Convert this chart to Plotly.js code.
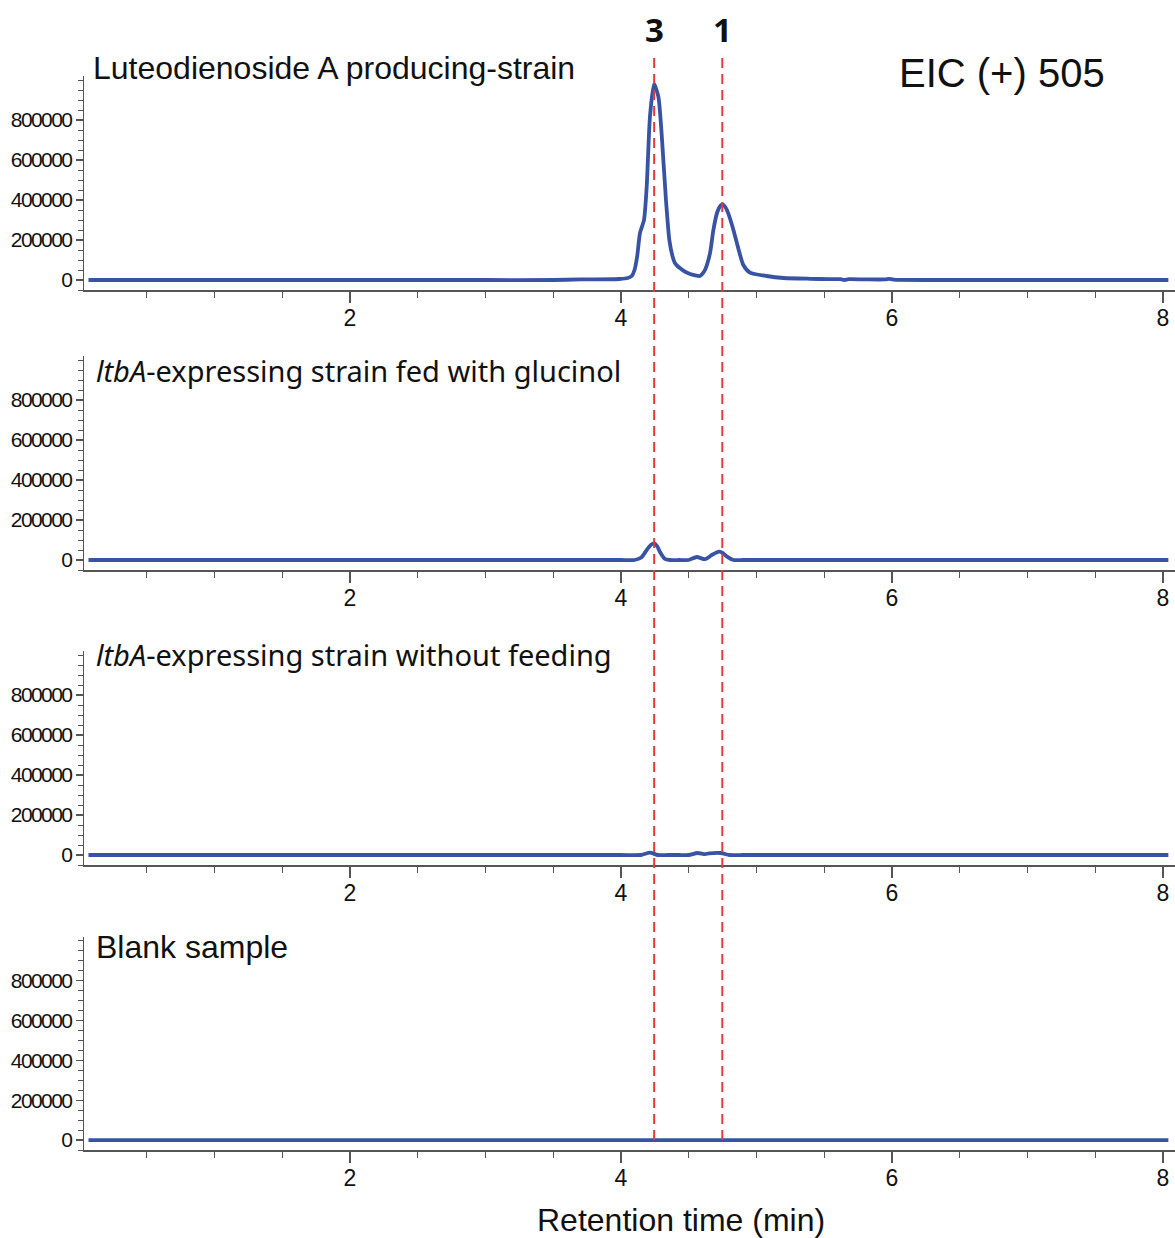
<!DOCTYPE html>
<html>
<head>
<meta charset="utf-8">
<script src="https://cdn.plot.ly/plotly-3.0.1.min.js"></script>
<style>
html,body{margin:0;padding:0;background:#fff;}
#chart{width:1175px;height:1238px;}
.yaxislayer-above text{letter-spacing:-1.6px;}
</style>
</head>
<body>
<div id="chart"></div>
<script>
// ---- Data ----
const panelLabels = [
  "Luteodienoside A producing-strain",
  "<i>ltbA</i>-expressing strain fed with glucinol",
  "<i>ltbA</i>-expressing strain without feeding",
  "Blank sample"
];
const xTickVals = [2, 4, 6, 8];
const yTickVals = [0, 200000, 400000, 600000, 800000];
const markerTimes = [4.245, 4.748];
const markerLabels = ["3", "1"];

const t1 = [0.07, 0.5, 1.0, 1.5, 2.0, 2.5, 3.0, 3.5, 3.7, 3.99, 4.05, 4.08, 4.10, 4.12, 4.14, 4.17, 4.19, 4.214, 4.244, 4.276, 4.30, 4.332, 4.357, 4.38, 4.40, 4.46, 4.51, 4.583, 4.60, 4.62, 4.657, 4.682, 4.711, 4.735, 4.75, 4.77, 4.792, 4.83, 4.866, 4.903, 4.952, 5.075, 5.2, 5.4, 5.54, 5.62, 5.65, 5.68, 5.8, 5.95, 5.98, 6.01, 6.3, 6.6, 7.0, 7.5, 8.04];
const v1 = [0, 0, 0, 0, 0, 0, 0, 0, 3000, 5000, 10000, 20000, 50000, 120000, 233000, 300000, 467000, 817000, 980000, 917000, 733000, 400000, 200000, 120000, 83000, 47000, 30000, 20000, 30000, 50000, 133000, 250000, 340000, 372000, 378000, 365000, 333000, 250000, 158000, 75000, 37000, 20000, 10000, 6000, 4000, 4000, 0, 4000, 3000, 3000, 6000, 2000, 0, 0, 0, 0, 0];

const t2 = [0.07, 0.5, 1.0, 1.5, 2.0, 2.5, 3.0, 3.5, 4.0, 4.10, 4.15, 4.19, 4.222, 4.244, 4.268, 4.288, 4.325, 4.36, 4.43, 4.50, 4.559, 4.62, 4.67, 4.705, 4.726, 4.75, 4.78, 4.83, 4.9, 5.0, 5.5, 6.0, 6.5, 7.0, 7.5, 8.04];
const v2 = [0, 0, 0, 0, 0, 0, 0, 0, 0, 0, 12000, 50000, 76000, 83000, 68000, 40000, 5000, 0, 0, 0, 15000, 4000, 25000, 38000, 42000, 36000, 18000, 0, 0, 0, 0, 0, 0, 0, 0, 0];

const t3 = [0.07, 0.5, 1.0, 1.5, 2.0, 2.5, 3.0, 3.5, 4.0, 4.15, 4.214, 4.27, 4.35, 4.43, 4.50, 4.565, 4.62, 4.65, 4.735, 4.80, 4.9, 5.0, 5.5, 6.0, 6.5, 7.0, 7.5, 8.04];
const v3 = [0, 0, 0, 0, 0, 0, 0, 0, 0, 0, 12000, 0, 0, 0, 0, 10000, 4000, 8000, 10000, 0, 0, 0, 0, 0, 0, 0, 0, 0];

const t4 = [0.07, 8.04];
const v4 = [0, 0];

const times = [t1, t2, t3, t4];
const values = [v1, v2, v3, v4];

// ---- Layout helpers (pixel -> paper) ----
const ML = 84, MR = 0, MT = 76, MB = 88, W = 1175, H = 1238;
const PW = W - ML - MR, PH = H - MT - MB;
const xp = px => (px - ML) / PW;
const yp = py => (H - MB - py) / PH;

const panelPix = [[76, 290], [356, 570], [651, 865], [937, 1150]];
const labelY = [68, 370, 654, 947];
const labelX = [91, 94, 94, 94];
const labelFont = ["Liberation Sans, Arial, sans-serif", "Noto Sans, Open Sans, sans-serif", "Noto Sans, Open Sans, sans-serif", "Liberation Sans, Arial, sans-serif"];
const labelSize = [32, 29, 29, 32];

const blue = "#3953a4";
const axisCol = "#555";

const traces = [];
const layout = {
  width: W, height: H,
  margin: {l: ML, r: MR, t: MT, b: MB},
  paper_bgcolor: "#fff", plot_bgcolor: "#fff",
  showlegend: false,
  shapes: [], annotations: []
};

for (let i = 0; i < 4; i++) {
  const n = i === 0 ? "" : String(i + 1);
  traces.push({
    x: times[i], y: values[i], xaxis: "x" + n, yaxis: "y" + n,
    type: "scatter", mode: "lines",
    line: {color: blue, width: 3.8, shape: "spline", smoothing: 0.6},
    hoverinfo: "skip"
  });
  const dom = [yp(panelPix[i][1]), yp(panelPix[i][0])];
  layout["xaxis" + n] = {
    domain: [0, 1], range: [0.037, 8.089], anchor: "y" + n,
    showgrid: false, zeroline: false,
    showline: true, linecolor: axisCol, linewidth: 1.5,
    tickmode: "array", tickvals: xTickVals, ticktext: xTickVals.map(String),
    ticks: "outside", ticklen: 11, tickwidth: 1.5, tickcolor: axisCol,
    ticklabelstandoff: -4,
    tickfont: {family: "Liberation Sans, Arial, sans-serif", size: 23, color: "#111"},
    minor: {dtick: 0.5, tick0: 0, ticks: "outside", ticklen: 6, tickwidth: 1.2, tickcolor: axisCol, showgrid: false},
    fixedrange: true
  };
  layout["yaxis" + n] = {
    domain: dom, range: [-50000, 1020000], anchor: "x" + n,
    showgrid: false, zeroline: false,
    showline: true, linecolor: axisCol, linewidth: 1.5,
    tickmode: "array", tickvals: yTickVals, ticktext: yTickVals.map(String),
    ticks: "outside", ticklen: 7, tickwidth: 1.2, tickcolor: axisCol,
    tickfont: {family: "Liberation Sans, Arial, sans-serif", size: 21, color: "#111"},
    minor: {dtick: 50000, tick0: 0, ticks: "outside", ticklen: 5, tickwidth: 1, tickcolor: axisCol, showgrid: false},
    fixedrange: true
  };
  layout.annotations.push({
    text: panelLabels[i], xref: "paper", yref: "paper",
    x: xp(labelX[i]), y: yp(labelY[i]), xanchor: "left", yanchor: "middle",
    showarrow: false, font: {family: labelFont[i], size: labelSize[i], color: "#111"}
  });
}

// Dashed marker lines
for (let k = 0; k < markerTimes.length; k++) {
  layout.shapes.push({
    type: "line", xref: "x", yref: "paper",
    x0: markerTimes[k], x1: markerTimes[k],
    y0: yp(1140), y1: yp(52),
    line: {color: "#e8383a", width: 2, dash: "10px,6px"}, layer: "above"
  });
  layout.annotations.push({
    text: "<b>" + markerLabels[k] + "</b>", xref: "x", yref: "paper",
    x: markerTimes[k], y: yp(30), xanchor: "center", yanchor: "middle",
    showarrow: false, font: {family: "Open Sans, Noto Sans, sans-serif", size: 33, color: "#111"}
  });
}

layout.annotations.push({
  text: "EIC (+) 505", xref: "paper", yref: "paper",
  x: xp(1002), y: yp(73), xanchor: "center", yanchor: "middle",
  showarrow: false, font: {family: "Liberation Sans, Arial, sans-serif", size: 40, color: "#111"}
});
layout.annotations.push({
  text: "Retention time (min)", xref: "paper", yref: "paper",
  x: xp(681), y: yp(1220), xanchor: "center", yanchor: "middle",
  showarrow: false, font: {family: "Liberation Sans, Arial, sans-serif", size: 32, color: "#111"}
});

Plotly.newPlot("chart", traces, layout, {staticPlot: true, displayModeBar: false});
</script>
</body>
</html>
